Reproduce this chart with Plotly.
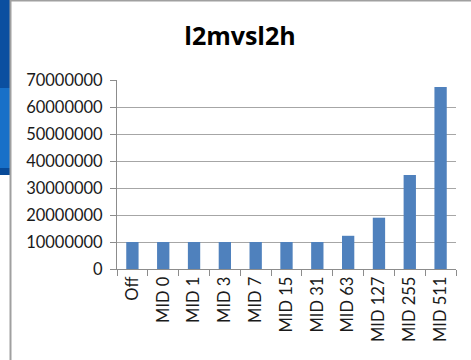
import plotly.graph_objects as go

# Data
categories = ["Off", "MID 0", "MID 1", "MID 3", "MID 7", "MID 15", "MID 31",
              "MID 63", "MID 127", "MID 255", "MID 511"]
values = [10000000, 10000000, 10000000, 10000000, 10000000, 10000000, 10000000,
          12300000, 19000000, 34800000, 67400000]
y_ticks = [0, 10000000, 20000000, 30000000, 40000000, 50000000, 60000000, 70000000]

W, H = 471, 360
L, R, T, B = 117, 15, 80, 91
PW, PH = W - L - R, H - T - B


def px(x):
    return (x - L) / PW


def py(y):
    return (H - B - y) / PH


fig = go.Figure(go.Bar(
    x=categories, y=values,
    marker=dict(color="#4F81BD", line=dict(width=0)),
    width=0.4,
))

shapes = [
    # background strip on the left
    dict(type="rect", xref="paper", yref="paper", x0=px(0), x1=px(10), y0=py(0), y1=py(88),
         fillcolor="#0B4FA0", line_width=0, layer="below"),
    dict(type="rect", xref="paper", yref="paper", x0=px(0), x1=px(10), y0=py(88), y1=py(168),
         fillcolor="#1870C8", line_width=0, layer="below"),
    dict(type="rect", xref="paper", yref="paper", x0=px(0), x1=px(10), y0=py(168), y1=py(175),
         fillcolor="#084A98", line_width=0, layer="below"),
    # chart frame
    dict(type="line", xref="paper", yref="paper", x0=px(10.5), x1=px(10.5), y0=py(0), y1=py(H),
         line=dict(color="#A0A0A0", width=2)),
    dict(type="line", xref="paper", yref="paper", x0=px(10), x1=px(W), y0=py(0.5), y1=py(0.5),
         line=dict(color="#A0A0A0", width=2)),
]

fig.update_layout(
    width=W, height=H,
    margin=dict(l=L, r=R, t=T, b=B),
    paper_bgcolor="white", plot_bgcolor="white",
    showlegend=False,
    shapes=shapes,
    title=dict(text="<b>l2mvsl2h</b>", x=240 / W, xanchor="center",
               y=1 - 36 / H, yanchor="middle",
               font=dict(family="Open Sans, Lato, sans-serif", size=25, color="black")),
    font=dict(family="Lato, Open Sans, sans-serif", size=16, color="#1A1A1A"),
    bargap=0.6,
)

fig.update_yaxes(
    range=[0, 70000000], tickvals=y_ticks, ticktext=[str(v) for v in y_ticks],
    showgrid=True, gridcolor="#A6A6A6", gridwidth=1,
    showline=True, linecolor="#8C8C8C", linewidth=1,
    ticks="outside", ticklen=6, tickcolor="#8C8C8C",
    ticklabelstandoff=4,
    zeroline=False, fixedrange=True,
    tickfont=dict(size=16.5),
)
fig.update_xaxes(
    tickangle=-90, showline=True, linecolor="#8C8C8C", linewidth=1,
    ticks="outside", tickson="boundaries", ticklen=6, tickcolor="#8C8C8C",
    showgrid=False, fixedrange=True,
    tickfont=dict(size=16.5),
)

fig.write_html("out.html")
